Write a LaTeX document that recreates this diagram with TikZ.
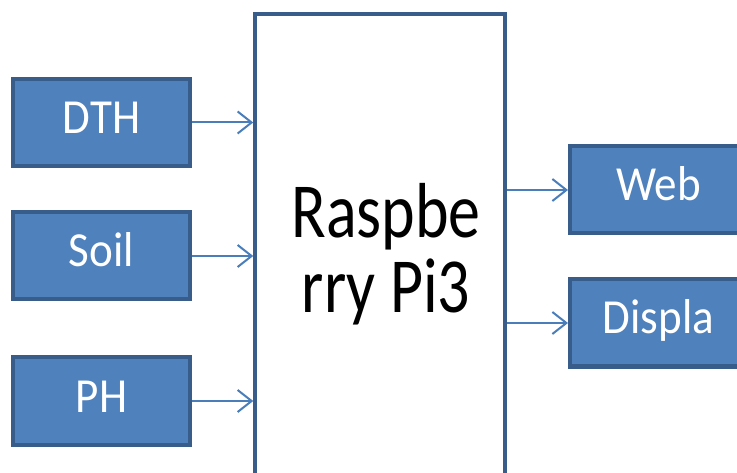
\documentclass[tikz,border=0pt]{standalone}
\usepackage{fontspec}
\setmainfont{Carlito}
\newfontfamily\pifont[FakeStretch=0.82]{Carlito}
\newfontfamily\boxfont[FakeStretch=0.92]{Carlito}
\usepackage{tikz}
\usetikzlibrary{arrows.meta}
\definecolor{boxfill}{HTML}{4F81BD}
\definecolor{boxline}{HTML}{385D8A}
\definecolor{arrowline}{HTML}{4A7EBB}

\begin{document}
\begin{tikzpicture}[x=1pt,y=-1pt,
  sensor/.style={rectangle, draw=boxline, fill=boxfill, line width=4pt,
    minimum width=177pt, minimum height=87pt, inner sep=0pt,
    text height=31pt, text depth=9pt,
    text=white, font=\boxfont\fontsize{49}{59}\selectfont},
  link/.style={draw=arrowline, line width=2pt,
    -{Straight Barb[length=14pt,width=22pt]}}]

\useasboundingbox (0,0) rectangle (737,473);
\clip (0,0) rectangle (737,473);

\node[draw=boxline, line width=4pt, minimum width=249.5pt, minimum height=480pt,
  align=center, font=\pifont\fontsize{78}{75}\selectfont] (pi) at (380,254)
  {\hspace*{12pt}Raspbe\\\hspace*{12pt}rry Pi3};

\foreach \name/\lbl/\y in {dth/DTH/122.5, soil/Soil/256, ph/PH/401}
{
  \node[sensor] (\name) at (101.5,\y) {\lbl};
  \draw[link] (\name.east) -- (\name.east -| pi.west);
}

\node[sensor] (web) at (658.5,190) {Web};
\node[sensor] (disp) at (658.5,323) {Displa};

\draw[link] (pi.east |- web.west) -- (web.west);
\draw[link] (pi.east |- disp.west) -- (disp.west);

\end{tikzpicture}
\end{document}
